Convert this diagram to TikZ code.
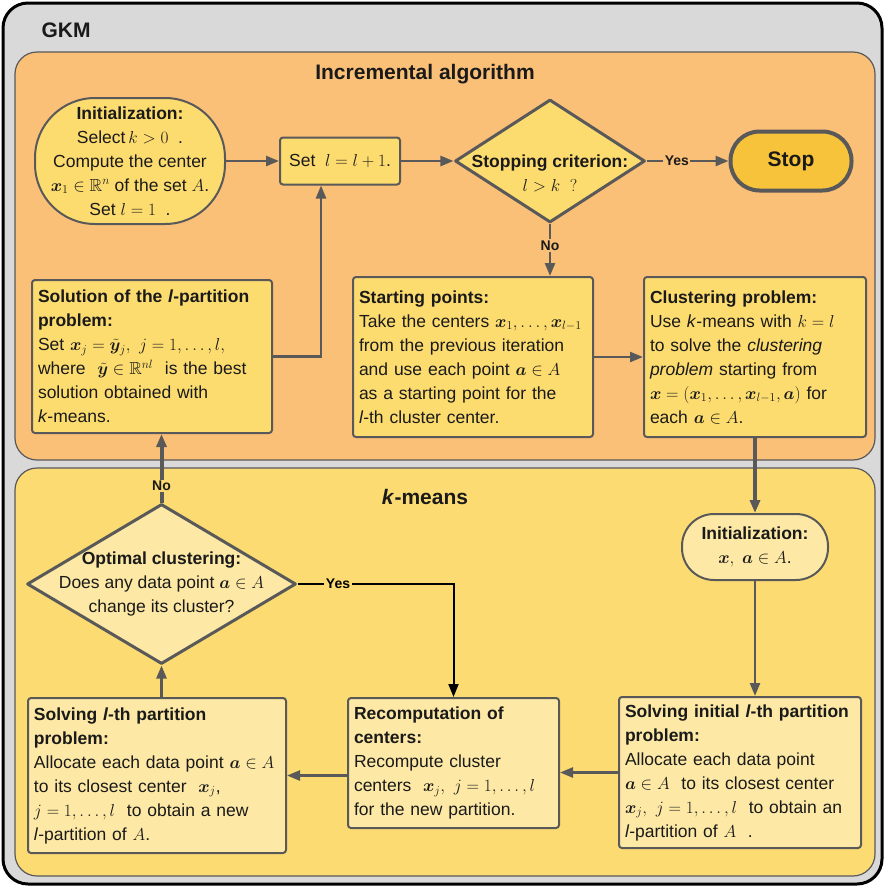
\documentclass[tikz,border=0pt]{standalone}
\usepackage{amsmath,amssymb}
\usepackage{bm}
\usepackage[no-math]{fontspec}
\setmainfont{Liberation Sans}
\usetikzlibrary{shapes.geometric}
\usetikzlibrary{arrows.meta}
\usepackage{xcolor}
\definecolor{bggray}{HTML}{D9D9D9}
\definecolor{incorange}{HTML}{FBC078}
\definecolor{kmyellow}{HTML}{FCDC72}
\definecolor{boxyellow}{HTML}{FDDC6F}
\definecolor{boxlight}{HTML}{FDE9A5}
\definecolor{stopgold}{HTML}{F7C33A}
\definecolor{edgegray}{HTML}{595959}
\definecolor{textdark}{HTML}{1A1A1A}

\begin{document}
\begin{tikzpicture}[x=1pt,y=-1pt,
  font=\fontsize{17.5}{24}\selectfont,text=textdark,
  box/.style={draw=edgegray,line width=2pt,rounded corners=3pt,fill=boxyellow,align=left,inner xsep=6pt,inner ysep=4pt},
  lbox/.style={box,fill=boxlight},
  term/.style={draw=edgegray,line width=2pt,align=center,inner sep=0pt},
  dia/.style={diamond,draw=edgegray,line width=3pt,line join=round,align=center,inner sep=0pt},
  conn/.style={draw=edgegray,line width=2.5pt,-{Triangle[length=13pt,width=10pt]}},
  yesno/.style={font=\fontsize{14}{14}\selectfont\bfseries,inner sep=1.5pt},
  title/.style={font=\fontsize{21}{24}\selectfont\bfseries}]
\useasboundingbox (0,0) rectangle (885,887);

% frames
\draw[fill=bggray,draw=black,line width=3pt,rounded corners=25pt] (3,3) rectangle (882,884);
\draw[fill=incorange,draw=edgegray,line width=1.2pt,rounded corners=22pt] (15,52) rectangle (875,460);
\draw[fill=kmyellow,draw=edgegray,line width=1.2pt,rounded corners=22pt] (15,468) rectangle (875,876);
\node[title] (gkm) at (66,30) {GKM};
\node[title] (inctitle) at (425,74) {Incremental algorithm};
\node[title] (kmtitle) at (425,497) {\textit{k}-means};

% incremental algorithm
\node[term,fill=boxyellow,rounded corners=60pt,minimum width=190pt,minimum height=126pt] (init) at (130,161)
  {\textbf{Initialization:}\\Select\,$k>0$~~.\\Compute the center\\$\bm{x}_1\in\mathbb{R}^n$ of the set $A$.\\Set~$l=1$~~.};
\node[box,align=center,minimum width=120pt,minimum height=47pt] (inc) at (340,161) {Set~~$l=l+1$.};
\node[dia,fill=boxyellow,minimum width=190pt,minimum height=123pt,
  label={[yshift=-12pt,align=center]center:{\textbf{Stopping criterion:}\\$l>k\ \ ?$}}] (stopc) at (550,161) {};
\node[term,fill=stopgold,line width=4pt,rounded corners=29pt,minimum width=121pt,minimum height=59pt,
  font=\fontsize{21}{24}\selectfont\bfseries] (stop) at (791,161) {Stop};
\node[box,text width=228pt,minimum height=153pt] (sol) at (152,356.5)
  {\textbf{Solution of the \textit{l}-partition}\\\textbf{problem:}\\Set~$\smash{\bm{x}_j=\tilde{\bm{y}}_j},\ j=1,\dots,l,$\\where~~$\smash{\tilde{\bm{y}}\in\mathbb{R}^{nl}}$~~is the best\\solution obtained with\\\textit{k}-means.};
\node[box,text width=228pt,minimum height=160pt] (start) at (473,357)
  {\textbf{Starting points:}\\Take the centers $\bm{x}_1,\dots,\bm{x}_{l-1}$\\from the previous iteration\\and use each point $\bm{a}\in A$\\as a starting point for the\\\textit{l}-th cluster center.};
\node[box,text width=210pt,minimum height=160pt] (clust) at (755,357)
  {\textbf{Clustering problem:}\\Use \textit{k}-means with $k=l$\\to solve the \textit{clustering}\\\textit{problem} starting from\\$\bm{x}=(\bm{x}_1,\dots,\bm{x}_{l-1},\bm{a})$ for\\each~$\bm{a}\in A$.};

% k-means
\node[term,fill=boxlight,rounded corners=32pt,minimum width=146pt,minimum height=66pt] (kinit) at (755,547)
  {\textbf{Initialization:}\\$\bm{x},\ \bm{a}\in A$.};
\node[dia,fill=boxlight,minimum width=269pt,minimum height=160pt,
  label={[align=center]center:{\textbf{Optimal clustering:}\\Does any data point $\bm{a}\in A$\\change its cluster?}}] (optc) at (161.5,584) {};
\node[lbox,text width=246pt,minimum height=155pt] (solvl) at (157,775.5)
  {\textbf{Solving \textit{l}-th partition}\\\textbf{problem:}\\Allocate each data point $\bm{a}\in A$\\to its closest center~~$\bm{x}_j$,\\$j=1,\dots,l$~~to obtain a new\\\textit{l}-partition of $A$.};
\node[lbox,text width=199pt,minimum height=130pt] (recomp) at (453.5,763)
  {\textbf{Recomputation of}\\\textbf{centers:}\\Recompute cluster\\centers~~$\bm{x}_j,\ j=1,\dots,l$\\for the new partition.};
\node[lbox,text width=230pt,minimum height=151pt] (solvi) at (740,772.5)
  {\textbf{Solving initial \textit{l}-th partition}\\\textbf{problem:}\\Allocate each data point\\$\bm{a}\in A$~~to its closest center\\$\bm{x}_j,\ j=1,\dots,l$~~to obtain an\\\textit{l}-partition of~$A$~~.};

% connectors
\draw[conn] (init) -- (inc);
\draw[conn] (inc) -- (stopc);
\draw[conn] (stopc) -- node[yesno,fill=incorange,pos=0.37] {Yes} (stop);
\draw[conn] (stopc.south) -- node[yesno,fill=incorange,pos=0.42] {No} (stopc.south |- start.north);
\draw[conn] (sol.east) -| ([xshift=-19pt]inc.south);
\draw[conn] (start) -- (clust);
\draw[conn,line width=4pt] (clust.south) -- (kinit.north);
\draw[conn] (kinit.south) -- (kinit.south |- solvi.north);
\draw[conn] (solvi.west) -- (solvi.west -| recomp.east);
\draw[conn] (recomp.west |- solvl.east) -- (solvl.east);
\draw[conn] (optc.south |- solvl.north) -- (optc.south);
\draw[conn,line width=4pt] (optc.north) -- node[yesno,fill=kmyellow,pos=0.24] {No} (optc.north |- sol.south);
\draw[black,line width=2pt,-{Triangle[length=13pt,width=10pt]}] (optc.east) -| node[yesno,fill=kmyellow,pos=0.13] {Yes} (recomp.north);
\end{tikzpicture}
\end{document}
